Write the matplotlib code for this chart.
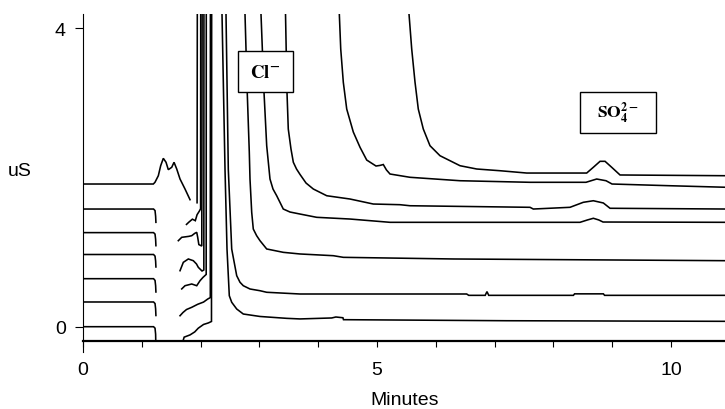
import numpy as np
import matplotlib
matplotlib.use("Agg")
import matplotlib.pyplot as plt
from matplotlib.patches import Rectangle

nan = np.nan
PEAK = 12.0  # off-scale chloride peak apex (clipped by the axes)

# ---- data: time (minutes) and conductivity (uS, with stacking offset) ----
t1 = [0, 1.20, 1.225, 1.235, 1.24, nan, 1.69, 1.72, 1.82, 1.90, 1.96, 2.05, 2.13, 2.185,
      2.194, 2.36, 2.364, 2.415, 2.449, 2.488, 2.529, 2.614, 2.726, 3.010, 3.464, 3.690,
      4.23, 4.30, 4.42, 4.43, 7.206, 10.95]
s1 = [0.0, 0.0, -0.02, -0.10, -0.30, nan, -0.22, -0.14, -0.11, -0.07, -0.02, 0.03, 0.05, 0.07,
      PEAK, PEAK, 4.19, 2.11, 1.04, 0.415, 0.327, 0.237, 0.17, 0.137, 0.112, 0.104,
      0.117, 0.13, 0.12, 0.094, 0.080, 0.072]

t2 = [0, 1.20, 1.225, 1.235, 1.24, nan, 1.65, 1.70, 1.76, 1.85, 1.95, 2.05, 2.12, 2.165,
      2.17, 2.428, 2.432, 2.471, 2.529, 2.614, 2.670, 2.726, 2.840, 3.010, 3.124, 3.690,
      6.525, 6.56, 6.84, 6.87, 6.90, 8.34, 8.36, 8.85, 8.87, 10.95]
s2 = [0.331, 0.331, 0.31, 0.24, 0.15, nan, 0.147, 0.19, 0.23, 0.26, 0.30, 0.33, 0.37, 0.39,
      PEAK, PEAK, 4.19, 2.11, 1.04, 0.683, 0.595, 0.549, 0.505, 0.482, 0.461, 0.438,
      0.438, 0.42, 0.42, 0.47, 0.42, 0.42, 0.44, 0.44, 0.42, 0.42]

t3 = [0, 1.20, 1.225, 1.235, 1.24, nan, 1.679, 1.735, 1.849, 1.934, 1.990, 2.04, 2.095,
      2.10, 2.75, 2.755, 2.794, 2.828, 2.840, 2.869, 2.896, 2.953, 3.010, 3.124, 3.406,
      3.690, 4.257, 4.427, 6.298, 10.95]
s3 = [0.643, 0.643, 0.62, 0.55, 0.465, nan, 0.506, 0.549, 0.572, 0.549, 0.616, 0.66, 0.70,
      PEAK, PEAK, 4.19, 3.116, 2.34, 1.978, 1.532, 1.308, 1.219, 1.152, 1.041, 0.996,
      0.974, 0.951, 0.929, 0.907, 0.884]

t4 = [0, 1.20, 1.225, 1.235, 1.24, nan, 1.650, 1.706, 1.791, 1.876, 1.93, 1.961, 2.024, 2.055,
      2.06, 3.02, 3.027, 3.078, 3.124, 3.180, 3.231, 3.294, 3.406, 3.520, 3.690, 3.974,
      4.541, 5.221, 8.452, 8.58, 8.679, 8.77, 8.844, 10.95]
s4 = [0.967, 0.967, 0.945, 0.88, 0.80, nan, 0.75, 0.862, 0.907, 0.884, 0.84, 0.795, 0.746, 0.76,
      PEAK, PEAK, 4.19, 3.143, 2.424, 1.978, 1.844, 1.754, 1.576, 1.536, 1.509, 1.465,
      1.442, 1.398, 1.398, 1.43, 1.452, 1.43, 1.402, 1.398]

t5 = [0, 1.20, 1.225, 1.235, 1.24, nan, 1.621, 1.679, 1.80, 1.849, 1.90, 1.934, 1.95, 1.97, 2.02,
      2.04, 3.44, 3.444, 3.469, 3.491, 3.537, 3.577, 3.631, 3.690, 3.793, 3.917, 4.145,
      4.541, 4.937, 5.391, 5.561, 7.602, 7.658, 8.282, 8.508, 8.679, 8.849, 8.963, 10.95]
s5 = [1.26, 1.26, 1.24, 1.17, 1.085, nan, 1.152, 1.197, 1.21, 1.219, 1.25, 1.264, 1.20, 1.10, 1.08,
      PEAK, PEAK, 4.19, 3.143, 2.648, 2.380, 2.202, 2.112, 2.04, 1.924, 1.844, 1.754,
      1.710, 1.643, 1.634, 1.620, 1.599, 1.576, 1.599, 1.666, 1.687, 1.657, 1.586, 1.576]

t6 = [0, 1.20, 1.225, 1.235, 1.24, nan, 1.76, 1.80, 1.86, 1.91, 1.94, 1.98, 2.00,
      2.007, 4.355, 4.359, 4.383, 4.427, 4.485, 4.597, 4.711, 4.825, 4.983, 5.05, 5.107,
      5.16, 5.221, 5.561, 6.412, 7.602, 8.554, 8.736, 8.895, 8.997, 9.983, 10.95]
s6 = [1.576, 1.576, 1.555, 1.48, 1.398, nan, 1.37, 1.40, 1.44, 1.42, 1.50, 1.55, 1.58,
      PEAK, PEAK, 4.19, 3.719, 3.273, 2.915, 2.607, 2.403, 2.232, 2.152, 2.16, 2.172,
      2.10, 2.045, 2.001, 1.955, 1.934, 1.934, 1.978, 1.955, 1.911, 1.888, 1.867]

t7 = [0, 1.196, 1.224, 1.281, 1.321, 1.366, 1.412, 1.451, 1.509, 1.548, 1.594, 1.650, 1.735,
      1.820, nan, 1.94, 1.956, 5.54, 5.544, 5.590, 5.646, 5.702, 5.787, 5.901, 6.071, 6.412,
      6.696, 7.092, 7.546, 8.566, 8.679, 8.793, 8.878, 8.991, 9.133, 10.95]
s7 = [1.911, 1.911, 1.934, 2.022, 2.156, 2.255, 2.202, 2.103, 2.135, 2.202, 2.112, 1.978, 1.844,
      1.701, nan, 1.66, PEAK, PEAK, 4.19, 3.72, 3.277, 2.915, 2.648, 2.424, 2.290, 2.156,
      2.112, 2.089, 2.058, 2.058, 2.135, 2.215, 2.215, 2.135, 2.032, 2.022]

times = [t1, t2, t3, t4, t5, t6, t7]
signals = [s1, s2, s3, s4, s5, s6, s7]

x_ticks = list(range(0, 11))
x_ticklabels = ["0", "", "", "", "", "5", "", "", "", "", "10"]
y_ticks = [0, 4]
y_ticklabels = ["0", "4"]

plt.rcParams["mathtext.fontset"] = "stix"

# ---- figure ----
W, H = 725, 410
fig = plt.figure(figsize=(W / 100, H / 100), dpi=100)
ax = fig.add_axes([83 / W, (H - 342) / H, (W - 83) / W, (342 - 15) / H])

for tt, ss in zip(times, signals):
    ax.plot(tt, ss, color="black", lw=1.15, solid_joinstyle="miter")

ax.set_xlim(0, 10.918)
ax.set_ylim(-0.1915, 4.188)

for side in ("top", "right"):
    ax.spines[side].set_visible(False)
ax.spines["bottom"].set_linewidth(1.6)
ax.spines["left"].set_linewidth(0.8)
ax.spines["left"].set_bounds(-0.34, 4.188)

tickfont = {"family": ["Liberation Sans", "DejaVu Sans"], "size": 14}
ax.set_xticks(x_ticks)
ax.set_xticklabels(x_ticklabels, fontdict=tickfont)
ax.set_yticks(y_ticks)
ax.set_yticklabels(y_ticklabels, fontdict=tickfont)
ax.tick_params(axis="x", direction="out", length=4.5, width=0.8, pad=10)
ax.tick_params(axis="y", direction="out", length=5.5, width=0.8, pad=7)

fig.text(405 / W, 1 - 401 / H, "Minutes", ha="center", va="center", **tickfont)
fig.text(20 / W, 1 - 172 / H, "uS", ha="center", va="center", **tickfont)


# annotation boxes (axes fraction)
def label_box(x0, y0, x1, y1, text, size):
    ax.add_patch(Rectangle((x0, y0), x1 - x0, y1 - y0, transform=ax.transAxes,
                           facecolor="white", edgecolor="black", lw=1.0, zorder=5,
                           clip_on=False))
    ax.text((x0 + x1) / 2, (y0 + y1) / 2, text, transform=ax.transAxes, ha="center",
            va="center", fontsize=size, zorder=6)


label_box(0.241, 0.762, 0.3276, 0.887, r"$\mathbf{Cl^{-}}$", 13.5)
label_box(0.774, 0.636, 0.8925, 0.761, r"$\mathbf{SO_4^{2-}}$", 12.5)

fig.savefig("out.png", dpi=100)
